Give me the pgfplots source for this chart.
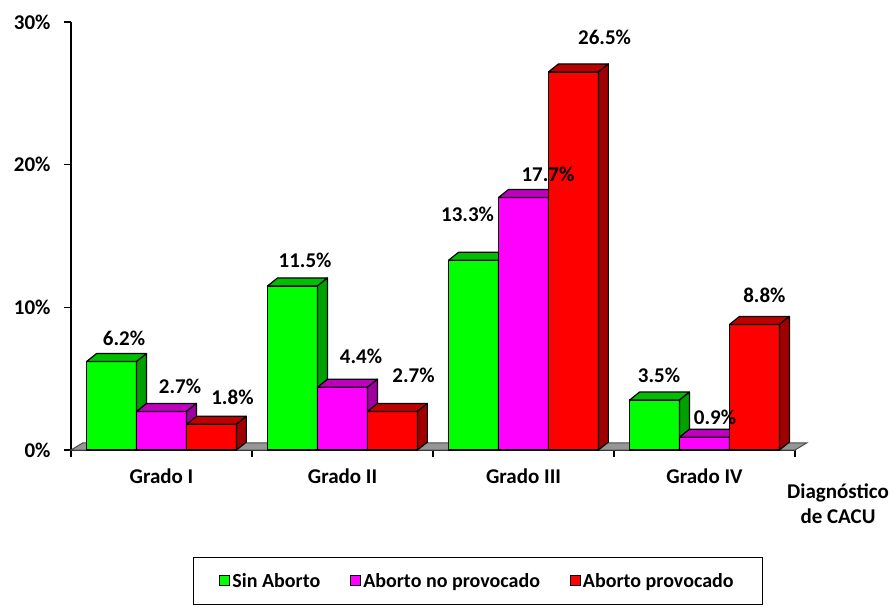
\documentclass[border=0pt]{standalone}
\usepackage{fontspec}
\setmainfont{Carlito}
\usepackage{pgfplots}
\usepackage{pgfplotstable}
\pgfplotsset{compat=1.18}
\definecolor{cg}{RGB}{0,255,0}
\definecolor{cgtop}{RGB}{0,190,0}
\definecolor{cgside}{RGB}{0,160,0}
\definecolor{cm}{RGB}{255,0,255}
\definecolor{cmtop}{RGB}{190,0,190}
\definecolor{cmside}{RGB}{160,0,160}
\definecolor{cr}{RGB}{255,0,0}
\definecolor{crtop}{RGB}{190,0,0}
\definecolor{crside}{RGB}{160,0,0}
\definecolor{floorgray}{RGB}{150,150,150}

\pgfplotstableread{
x sin nop prov
1 6.2 2.7 1.8
2 11.5 4.4 2.7
3 13.3 17.7 26.5
4 3.5 0.9 8.8
}\datatable

\pgfplotstableread{
x y
0.5 0
4.5 0
}\floortable

\def\ddx{0.055}
\def\ddy{0.56}
\def\bw{0.276}
\newcommand{\lbl}{\bfseries\fontsize{21}{24}\selectfont}
\newcommand{\lgd}{\bfseries\fontsize{20}{23}\selectfont}

\newcommand{\faces}[3]{%
 \pgfplotsinvokeforeach{0,1,2,3}{%
  \pgfplotstablegetelem{##1}{x}\of\datatable\let\cx\pgfplotsretval
  \pgfplotstablegetelem{##1}{#1}\of\datatable\let\cv\pgfplotsretval
  \pgfmathsetmacro\xa{\cx+#2-\bw/2}%
  \pgfmathsetmacro\xb{\cx+#2+\bw/2}%
  \pgfmathsetmacro\xc{\xa+\ddx}%
  \pgfmathsetmacro\xd{\xb+\ddx}%
  \pgfmathsetmacro\yt{\cv+\ddy}%
  \edef\cmd{\noexpand\addplot[fill=#3top,draw=black,line width=1.2pt,line join=round,forget plot] coordinates {(\xa,\cv) (\xc,\yt) (\xd,\yt) (\xb,\cv) (\xa,\cv)};%
  \noexpand\addplot[fill=#3side,draw=black,line width=1.2pt,line join=round,forget plot] coordinates {(\xb,0) (\xd,\ddy) (\xd,\yt) (\xb,\cv) (\xb,0)};}%
  \cmd
 }%
}

\begin{document}
\begin{tikzpicture}
\begin{axis}[
 at={(71pt,156pt)}, anchor=south west, scale only axis,
 width=724pt, height=428pt,
 xmin=0.5, xmax=4.5, ymin=0, ymax=30,
 axis x line*=bottom, axis y line*=left,
 axis line style={line width=1.5pt},
 clip=false,
 xtick={0.5,1.5,2.5,3.5,4.5}, xticklabels={},
 extra x ticks={1,2,3,4},
 extra x tick labels={Grado I,Grado II,Grado III,Grado IV},
 extra x tick style={major tick length=0pt, xticklabel style={yshift=-15pt}},
 ytick={0,10,20,30}, yticklabels={0\%,10\%,20\%,30\%},
 yticklabel style={xshift=-10pt},
 tick align=outside,
 major tick length=7pt,
 tick style={line width=1.5pt, black},
 ticklabel style={font=\lbl},
 /pgf/number format/assume math mode=true,
 legend columns=3,
 legend style={at={(axis description cs:0.5615,-0.306)}, anchor=center, draw=none, fill=none,
   font=\lgd, /tikz/every even column/.append style={column sep=28pt}},
]
% floor
\addplot[fill=floorgray, draw=black!70, line width=1pt, forget plot]
  table[x expr={\thisrow{x}}, y=y]{\floortable} --
  (axis cs:4.5+0.065,0.5) -- (axis cs:0.5+0.065,0.5) -- cycle;

\addplot[ybar, bar width=\bw, bar shift=-\bw, fill=cg, draw=black, line width=1.2pt,
  legend image code/.code={\draw[fill=cg,draw=black,line width=1pt] (0pt,-5pt) rectangle (10pt,5pt);}]
  table[x=x, y=sin]{\datatable};
\addlegendentry{Sin Aborto}
\faces{sin}{-\bw}{cg}

\addplot[ybar, bar width=\bw, bar shift=0, fill=cm, draw=black, line width=1.2pt,
  legend image code/.code={\draw[fill=cm,draw=black,line width=1pt] (0pt,-5pt) rectangle (10pt,5pt);}]
  table[x=x, y=nop]{\datatable};
\addlegendentry{Aborto no provocado}
\faces{nop}{0}{cm}

\addplot[ybar, bar width=\bw, bar shift=\bw, fill=cr, draw=black, line width=1.2pt,
  legend image code/.code={\draw[fill=cr,draw=black,line width=1pt] (0pt,-5pt) rectangle (10pt,5pt);}]
  table[x=x, y=prov]{\datatable};
\addlegendentry{Aborto provocado}
\faces{prov}{\bw}{cr}

\node[font=\lbl] at (axis cs:0.793,7.85) {6.2\%};
\node[font=\lbl] at (axis cs:1.102,4.45) {2.7\%};
\node[font=\lbl] at (axis cs:1.392,3.71) {1.8\%};
\node[font=\lbl] at (axis cs:1.793,13.32) {11.5\%};
\node[font=\lbl] at (axis cs:2.102,6.55) {4.4\%};
\node[font=\lbl] at (axis cs:2.392,5.26) {2.7\%};
\node[font=\lbl] at (axis cs:2.691,16.54) {13.3\%};
\node[font=\lbl] at (axis cs:3.135,19.31) {17.7\%};
\node[font=\lbl] at (axis cs:3.448,28.95) {26.5\%};
\node[font=\lbl] at (axis cs:3.749,5.26) {3.5\%};
\node[font=\lbl] at (axis cs:4.058,2.31) {0.9\%};
\node[font=\lbl] at (axis cs:4.331,10.86) {8.8\%};
\end{axis}
\node[font=\bfseries\fontsize{21}{25}\selectfont, align=center] at (838pt,102pt) {Diagnóstico\\de CACU};
\draw[line width=1pt] (193pt,1.5pt) rectangle (762pt,49pt);
\pgfresetboundingbox
\path[use as bounding box] (0,0) rectangle (893pt,606pt);
\end{tikzpicture}
\end{document}
